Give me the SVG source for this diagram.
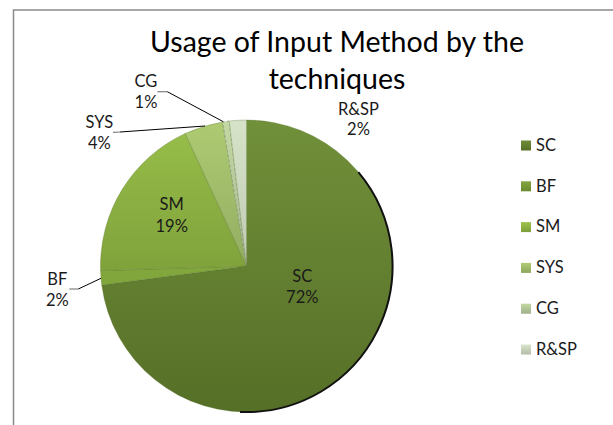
<svg xmlns="http://www.w3.org/2000/svg" width="613" height="425" viewBox="0 0 613 425">
  <defs>
    <style>
      .title { font-family: Lato, "Liberation Sans", sans-serif; font-size: 28.5px; fill: #000; text-anchor: middle; }
      .lbl { font-family: Lato, "Liberation Sans", sans-serif; font-size: 16.5px; fill: #1a1a1a; text-anchor: middle; }
      .leg { font-family: Lato, "Liberation Sans", sans-serif; font-size: 16.5px; fill: #1a1a1a; }
      .slice { stroke: #4f6a22; stroke-width: 0.5; stroke-opacity: 0.6; }
      .lead-g { stroke: #808080; stroke-width: 1.2; fill: none; }
      .lead-k { stroke: #000; stroke-width: 1; fill: none; }
    </style>
    <linearGradient id="gSC" gradientUnits="userSpaceOnUse" x1="0" y1="120" x2="0" y2="412">
      <stop offset="0" stop-color="#71903a"/><stop offset="1" stop-color="#566f27"/>
    </linearGradient>
    <linearGradient id="gBF" gradientUnits="userSpaceOnUse" x1="0" y1="120" x2="0" y2="412">
      <stop offset="0" stop-color="#8cb446"/><stop offset="1" stop-color="#769a34"/>
    </linearGradient>
    <linearGradient id="gSM" gradientUnits="userSpaceOnUse" x1="0" y1="120" x2="0" y2="280">
      <stop offset="0" stop-color="#98bf4a"/><stop offset="1" stop-color="#7ea03a"/>
    </linearGradient>
    <linearGradient id="gSYS" gradientUnits="userSpaceOnUse" x1="0" y1="120" x2="0" y2="266">
      <stop offset="0" stop-color="#aecb72"/><stop offset="1" stop-color="#93ad62"/>
    </linearGradient>
    <linearGradient id="gCG" gradientUnits="userSpaceOnUse" x1="0" y1="120" x2="0" y2="266">
      <stop offset="0" stop-color="#c3d8a2"/><stop offset="1" stop-color="#a8b994"/>
    </linearGradient>
    <linearGradient id="gRSP" gradientUnits="userSpaceOnUse" x1="0" y1="120" x2="0" y2="266">
      <stop offset="0" stop-color="#d6e3c8"/><stop offset="1" stop-color="#c0cab4"/>
    </linearGradient>
    <linearGradient id="lSC" x1="0" y1="0" x2="0" y2="1"><stop offset="0" stop-color="#6e8d35"/><stop offset="1" stop-color="#566f27"/></linearGradient>
    <linearGradient id="lBF" x1="0" y1="0" x2="0" y2="1"><stop offset="0" stop-color="#82a63d"/><stop offset="1" stop-color="#6a8a2e"/></linearGradient>
    <linearGradient id="lSM" x1="0" y1="0" x2="0" y2="1"><stop offset="0" stop-color="#9cc34d"/><stop offset="1" stop-color="#7e9f3a"/></linearGradient>
    <linearGradient id="lSYS" x1="0" y1="0" x2="0" y2="1"><stop offset="0" stop-color="#b0cd74"/><stop offset="1" stop-color="#8ea65d"/></linearGradient>
    <linearGradient id="lCG" x1="0" y1="0" x2="0" y2="1"><stop offset="0" stop-color="#c3d8a2"/><stop offset="1" stop-color="#9fb08a"/></linearGradient>
    <linearGradient id="lRSP" x1="0" y1="0" x2="0" y2="1"><stop offset="0" stop-color="#d9e4cc"/><stop offset="1" stop-color="#b3bda7"/></linearGradient>
  </defs>

  <rect x="0" y="0" width="613" height="425" fill="#fff"/>
  <rect id="frame" x="13.5" y="10" width="700" height="500" fill="none" stroke="#8a8a8a" stroke-width="1.5"/>

  <g id="title">
    <text class="title" x="337" y="51.5">Usage of Input Method by the</text>
    <text class="title" x="337" y="89">techniques</text>
  </g>

  <g id="pie">
    <g id="slice-SC"><path class="slice" fill="url(#gSC)" d="M246.5,266 L246.5,120 A146,146 0 1 1 101.75,285.06 Z"/></g>
    <g id="slice-BF"><path class="slice" fill="url(#gBF)" d="M246.5,266 L101.75,285.06 A146,146 0 0 1 100.57,270.59 Z"/></g>
    <g id="slice-SM"><path class="slice" fill="url(#gSM)" d="M246.5,266 L100.57,270.59 A146,146 0 0 1 185.26,133.46 Z"/></g>
    <g id="slice-SYS"><path class="slice" fill="url(#gSYS)" d="M246.5,266 L185.26,133.46 A146,146 0 0 1 222.65,121.96 Z"/></g>
    <g id="slice-CG"><path fill="url(#gCG)" stroke="#8c9a80" stroke-width="0.8" stroke-dasharray="3,2" d="M246.5,266 L222.65,121.96 A146,146 0 0 1 229.21,121.03 Z"/></g>
    <g id="slice-RSP"><path class="slice" fill="url(#gRSP)" d="M246.5,266 L229.21,121.03 A146,146 0 0 1 246.5,120 Z"/></g>
    <path d="M358.34,172.15 A146,146 0 0 1 240,411.9" fill="none" stroke="#111" stroke-width="2"/>
  </g>

  <g id="connectors">
    <path class="lead-g" d="M157.3,91.7 L167.3,91.7"/>
    <path class="lead-k" d="M167.3,91.7 L223.3,121.7"/>
    <path class="lead-g" d="M113,132.4 L120,132"/>
    <path class="lead-k" d="M120,132 L205,126"/>
    <path class="lead-g" d="M69.3,289 L78.3,289"/>
    <path class="lead-k" d="M78.3,289 L101,278.3"/>
  </g>

  <g id="labels">
    <g id="label-SC"><text class="lbl" x="302.3" y="281.7">SC</text><text class="lbl" x="302.3" y="303.3">72%</text></g>
    <g id="label-BF"><text class="lbl" x="57.3" y="285">BF</text><text class="lbl" x="57.3" y="306">2%</text></g>
    <g id="label-SM"><text class="lbl" x="171.7" y="209.5">SM</text><text class="lbl" x="171.7" y="231.5">19%</text></g>
    <g id="label-SYS"><text class="lbl" x="99.3" y="128.3">SYS</text><text class="lbl" x="99.3" y="149.3">4%</text></g>
    <g id="label-CG"><text class="lbl" x="146" y="86.7">CG</text><text class="lbl" x="146" y="107.5">1%</text></g>
    <g id="label-RSP"><text class="lbl" x="358.5" y="114.5">R&amp;SP</text><text class="lbl" x="358.5" y="135">2%</text></g>
  </g>

  <g id="legend">
    <g id="leg-SC"><rect x="521" y="140.5" width="10" height="10" fill="url(#lSC)"/><text class="leg" x="536" y="150.8">SC</text></g>
    <g id="leg-BF"><rect x="521" y="181.3" width="10" height="10" fill="url(#lBF)"/><text class="leg" x="536" y="191.6">BF</text></g>
    <g id="leg-SM"><rect x="521" y="222.1" width="10" height="10" fill="url(#lSM)"/><text class="leg" x="536" y="232.4">SM</text></g>
    <g id="leg-SYS"><rect x="521" y="262.9" width="10" height="10" fill="url(#lSYS)"/><text class="leg" x="536" y="273.2">SYS</text></g>
    <g id="leg-CG"><rect x="521" y="303.7" width="10" height="10" fill="url(#lCG)"/><text class="leg" x="536" y="314">CG</text></g>
    <g id="leg-RSP"><rect x="521" y="344.5" width="10" height="10" fill="url(#lRSP)"/><text class="leg" x="536" y="354.8">R&amp;SP</text></g>
  </g>
</svg>
